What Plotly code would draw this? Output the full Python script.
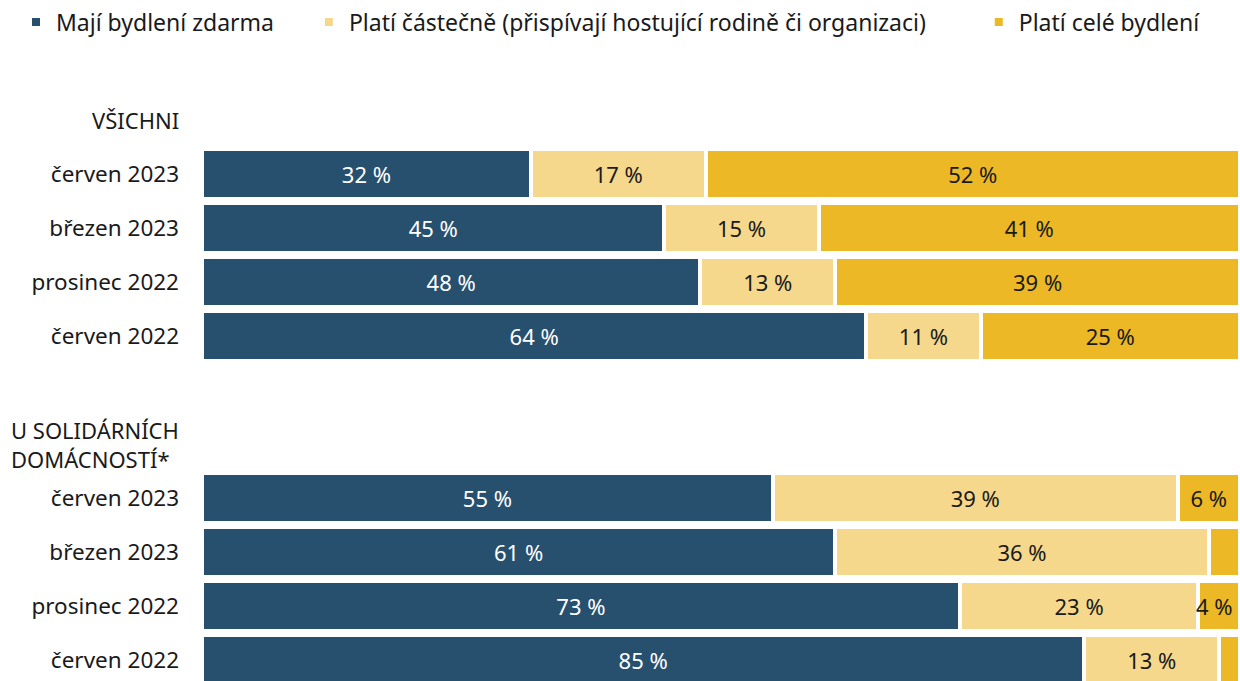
import plotly.graph_objects as go

periods = ["červen 2023", "březen 2023", "prosinec 2022", "červen 2022"]
group_titles = ["VŠICHNI", "U SOLIDÁRNÍCH<br>DOMÁCNOSTÍ*"]
series_names = ["Mají bydlení zdarma",
                "Platí částečně (přispívají hostující rodině či organizaci)",
                "Platí celé bydlení"]

vsichni_zdarma = [32, 45, 48, 64]
vsichni_castecne = [17, 15, 13, 11]
vsichni_cele = [52, 41, 39, 25]

solid_zdarma = [55, 61, 73, 85]
solid_castecne = [39, 36, 23, 13]
solid_cele = [6, 3, 4, 2]

colors = ["#27506F", "#F5D88C", "#ECB826"]
text_colors = ["#FFFFFF", "#1A1A1A", "#1A1A1A"]
FONT = "Noto Sans"
legend_pads = ["\u00a0" * 5, "\u00a0" * 8, ""]  # extra spacing between legend entries

W, H = 1240, 681
ML, MT = 202, 90

# slot positions: group 1 rows 0..3, group 2 rows 6..9, headings at -1 and 5
group_offsets = [0, 6]
ypos = [group_offsets[0] + i for i in range(len(periods))] + \
       [group_offsets[1] + i for i in range(len(periods))]
yticktext = periods + periods

series = [vsichni_zdarma + solid_zdarma,
          vsichni_castecne + solid_castecne,
          vsichni_cele + solid_cele]

fig = go.Figure()
for k, (name, vals, col, tcol, pad) in enumerate(
        zip(series_names, series, colors, text_colors, legend_pads)):
    is_last = k == len(series) - 1
    labels = [f"{v} %" if v >= 5 else "" for v in vals]
    fig.add_trace(go.Bar(
        name=name + pad, x=vals, y=ypos, orientation="h",
        marker=dict(color=col, line=dict(color="white", width=4)),
        width=0.926,
        text=labels, textposition="inside", insidetextanchor="middle",
        constraintext="none",
        textfont=dict(family=FONT, size=22, color=tcol),
        hoverinfo="skip",
    ))
    if is_last:
        # small last segments: label right-aligned at the end of the stack (overflowing left)
        for v, y in zip(vals, ypos):
            if 4 <= v < 5:
                fig.add_annotation(
                    x=100, xref="x", y=y, yref="y", text=f"{v} %",
                    xanchor="right", xshift=-5, showarrow=False,
                    font=dict(family=FONT, size=22, color=tcol),
                )

for off, title in zip(group_offsets, group_titles):
    fig.add_annotation(
        x=0, xref="paper", y=off - 1, yref="y", text=title,
        xanchor="right", xshift=-21, align="left", showarrow=False,
        font=dict(family=FONT, size=22, color="#1A1A1A"),
    )

plot_w = W - ML
plot_h = H - MT
fig.update_layout(
    width=W, height=H,
    barmode="stack", barnorm="percent",
    paper_bgcolor="white", plot_bgcolor="white",
    margin=dict(l=ML, r=0, t=MT, b=0, autoexpand=False),
    font=dict(family=FONT, size=22, color="#1A1A1A"),
    showlegend=True,
    legend=dict(orientation="h", x=(16 - ML) / plot_w, xanchor="left",
                y=1 + (MT - 22) / plot_h, yanchor="middle",
                font=dict(family=FONT, size=23, color="#1A1A1A"),
                traceorder="normal"),
    xaxis=dict(range=[0, 100], visible=False, fixedrange=True),
    yaxis=dict(range=[9.389, -1.556], tickvals=ypos, ticktext=yticktext,
               showgrid=False, zeroline=False, showline=False, automargin=False,
               ticks="", ticklabelstandoff=22,
               tickfont=dict(family=FONT, size=22.5, color="#1A1A1A")),
)

fig.write_html("out.html", config={"displayModeBar": False},
               post_script="document.body.style.margin='0';document.body.style.overflow='hidden';")
